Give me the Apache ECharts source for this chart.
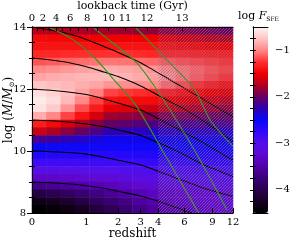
<!DOCTYPE html>
<html><head><meta charset="utf-8">
<script src="https://cdn.jsdelivr.net/npm/echarts@6/dist/echarts.min.js"></script>
<style>html,body{margin:0;padding:0;background:#fff}#c{width:304px;height:240px}</style>
</head><body><div id="c"></div>
<script>
// ---- data ----
const massRows = [13.875,13.625,13.375,13.125,12.875,12.625,12.375,12.125,11.875,11.625,11.375,11.125,
                  10.875,10.625,10.375,10.125,9.875,9.625,9.375,9.125,8.875,8.625,8.375,8.125];
const zCols = [0.1,0.32,0.58,0.9,1.28,1.74,2.29,2.96,3.75,4.7,5.85,7.23,8.88,10.86];
const fsfe = [
 [-1.70,-1.72,-1.75,-1.77,-1.80,-1.80,-1.82,-1.84,-1.85,-1.88,-1.90,-1.93,-1.96,-2.00],
 [-1.45,-1.46,-1.47,-1.48,-1.50,-1.50,-1.50,-1.50,-1.50,-1.55,-1.60,-1.65,-1.70,-1.75],
 [-1.40,-1.40,-1.40,-1.40,-1.40,-1.40,-1.40,-1.40,-1.40,-1.42,-1.44,-1.46,-1.48,-1.50],
 [-1.30,-1.30,-1.28,-1.27,-1.26,-1.25,-1.26,-1.28,-1.30,-1.31,-1.32,-1.33,-1.34,-1.35],
 [-1.15,-1.13,-1.10,-1.08,-1.06,-1.05,-1.06,-1.08,-1.10,-1.13,-1.16,-1.19,-1.22,-1.25],
 [-1.00,-0.97,-0.93,-0.90,-0.87,-0.85,-0.87,-0.90,-0.95,-1.00,-1.05,-1.10,-1.15,-1.20],
 [-0.88,-0.85,-0.83,-0.81,-0.80,-0.80,-0.82,-0.86,-0.90,-0.97,-1.05,-1.12,-1.19,-1.25],
 [-0.75,-0.77,-0.80,-0.84,-0.88,-0.95,-0.97,-0.99,-1.00,-1.08,-1.17,-1.26,-1.34,-1.40],
 [-0.62,-0.68,-0.78,-0.90,-1.02,-1.20,-1.24,-1.27,-1.30,-1.35,-1.40,-1.45,-1.50,-1.55],
 [-0.55,-0.63,-0.80,-1.00,-1.20,-1.40,-1.42,-1.44,-1.45,-1.50,-1.55,-1.60,-1.65,-1.70],
 [-0.60,-0.72,-0.95,-1.17,-1.36,-1.55,-1.58,-1.62,-1.65,-1.69,-1.73,-1.77,-1.81,-1.85],
 [-0.85,-1.00,-1.20,-1.40,-1.60,-1.80,-1.83,-1.87,-1.90,-1.92,-1.94,-1.96,-1.98,-2.00],
 [-1.35,-1.45,-1.60,-1.75,-1.88,-2.00,-2.03,-2.07,-2.10,-2.11,-2.12,-2.13,-2.14,-2.15],
 [-1.65,-1.75,-1.88,-2.00,-2.12,-2.25,-2.27,-2.29,-2.30,-2.30,-2.30,-2.30,-2.30,-2.30],
 [-2.15,-2.20,-2.27,-2.33,-2.40,-2.45,-2.45,-2.45,-2.45,-2.45,-2.45,-2.45,-2.45,-2.45],
 [-2.50,-2.52,-2.53,-2.54,-2.55,-2.55,-2.55,-2.55,-2.55,-2.55,-2.55,-2.55,-2.55,-2.55],
 [-2.65,-2.66,-2.67,-2.68,-2.69,-2.70,-2.68,-2.66,-2.65,-2.65,-2.65,-2.65,-2.65,-2.65],
 [-2.85,-2.85,-2.85,-2.85,-2.85,-2.85,-2.83,-2.81,-2.80,-2.79,-2.78,-2.77,-2.76,-2.75],
 [-3.05,-3.05,-3.04,-3.03,-3.02,-3.00,-2.98,-2.96,-2.95,-2.94,-2.93,-2.92,-2.91,-2.90],
 [-3.30,-3.30,-3.28,-3.26,-3.23,-3.20,-3.15,-3.10,-3.06,-3.04,-3.02,-3.00,-2.99,-2.98],
 [-3.65,-3.62,-3.56,-3.50,-3.44,-3.38,-3.32,-3.26,-3.20,-3.17,-3.14,-3.12,-3.10,-3.08],
 [-4.05,-3.98,-3.90,-3.80,-3.70,-3.60,-3.50,-3.42,-3.35,-3.30,-3.27,-3.24,-3.21,-3.18],
 [-4.35,-4.28,-4.18,-4.05,-3.92,-3.80,-3.68,-3.56,-3.45,-3.38,-3.32,-3.27,-3.23,-3.20],
 [-4.48,-4.45,-4.38,-4.25,-4.10,-3.95,-3.80,-3.66,-3.55,-3.45,-3.38,-3.32,-3.27,-3.25]
];
const zTrack = [0,0.5,1,1.5,2,3,4,5,6,8,10,12];
const track14 = [14.00,13.82,13.60,13.37,13.18,12.85,12.52,12.25,12.02,11.65,11.35,11.10];
const track13 = [13.00,12.88,12.72,12.55,12.40,12.10,11.80,11.55,11.35,10.95,10.60,10.30];
const track12 = [12.00,11.92,11.82,11.68,11.55,11.32,11.05,10.80,10.60,10.25,9.95,9.70];
const track11 = [11.00,10.95,10.87,10.78,10.68,10.50,10.27,10.07,9.88,9.55,9.35,9.17];
const track10 = [10.00,9.96,9.90,9.80,9.70,9.55,9.35,9.17,9.03,8.80,8.65,8.53];
const track9  = [9.00,8.95,8.88,8.80,8.70,8.55,8.38,8.22,8.08,7.85,7.68,7.55];
const green1Z = [0.23,0.67,1.23,1.88,2.72,4.46,7.2,7.6];
const green1M = [14.0,13.61,13.0,12.26,11.52,9.87,8.1,7.9];
const green2Z = [1.18,1.38,2.72,3.51,4.82,7.54,11.05];
const green2M = [14.0,13.81,12.9,12.29,11.32,9.71,8.1];
const green3Z = [2.72,3.34,4.8,7.0,8.7,12.0];
const green3M = [14.0,13.61,12.84,11.97,11.0,10.15];
const zTicks = [0,1,2,3,4,6,9,12];
const lookbackLabels = [0,2,4,6,8,10,11,12,13];
const lookbackZ = [0,0.15,0.36,0.63,1.02,1.66,2.28,3.34,5.8];
const lookbackMinorZ = [0.07,0.25,0.48,0.81,1.3];
const cbarLabels = [-4,-3,-2,-1];
const cbarTicks = [-4.25,-4,-3.75,-3.5,-3.25,-3,-2.75,-2.5,-2.25,-2,-1.75,-1.5,-1.25,-1,-0.75];
const hatchFromZ = 4;
const zMax = 12;
const fMin = -4.5, fMax = -0.5;
const cmap = ['#000000','#180024','#2a004e','#3c0078','#5200a8','#6008d0','#5410ea','#3008fa','#0808f8',
              '#3000b0','#640060','#b00020','#f00000','#ff3030','#ff8888','#ffc4c4','#fff4f4'];

// ---- build ----
const lz = z => Math.log10(1 + z);
const heat = [];
fsfe.forEach((row, r) => row.forEach((v, c) => heat.push([c, r, v])));
const pairs = (zs, ms) => zs.map((z, i) => [lz(z), ms[i]]);
const FONT = 'DejaVu Serif';
const nearest = (vals, v) => { let b = 0; vals.forEach((x, i) => { if (Math.abs(lz(x) - v) < Math.abs(lz(vals[b]) - v)) b = i; }); return b; };

const pc = document.createElement('canvas'); pc.width = 3; pc.height = 3;
const pctx = pc.getContext('2d');
pctx.fillStyle = 'rgba(140,110,150,0.6)';
for (let i = 0; i < 3; i++) pctx.fillRect(i, 2 - i, 1, 1);

const G = {left: 32, top: 27, width: 201, height: 186, outerBoundsMode: 'none', containLabel: false};
const lineSeries = (zs, ms, color) => ({
  type: 'line', xAxisIndex: 1, yAxisIndex: 1, data: pairs(zs, ms), smooth: 0.3,
  showSymbol: false, symbol: 'none', lineStyle: {color, width: 1.1}, z: 3, silent: true, animation: false
});
const trackSeries = [track14, track13, track12, track11, track10, track9].map(t => lineSeries(zTrack, t, '#000'));
const greenSeries = [[green1Z, green1M], [green2Z, green2M], [green3Z, green3M]].map(g => lineSeries(g[0], g[1], '#2f9a1e'));

const axisLine = {show: true, lineStyle: {color: '#000', width: 1}};
const chart = echarts.init(document.getElementById('c'), null, {renderer: 'canvas'});
chart.setOption({
  animation: false,
  textStyle: {fontFamily: FONT},
  grid: [Object.assign({}, G), Object.assign({}, G),
         {left: 253, top: 27, width: 15, height: 186, outerBoundsMode: 'none', containLabel: false}],
  xAxis: [
    {type: 'category', gridIndex: 0, data: zCols, show: false},
    {type: 'value', gridIndex: 1, min: 0, max: lz(zMax), position: 'bottom', z: 10,
     axisLine, splitLine: {show: false},
     axisTick: {inside: true, length: 5, customValues: zTicks.map(lz), lineStyle: {color: '#000'}},
     axisLabel: {customValues: zTicks.map(lz), formatter: v => String(zTicks[nearest(zTicks, v)]),
                 margin: 4, fontSize: 10, color: '#000', fontFamily: FONT},
     name: 'redshift', nameLocation: 'middle', nameGap: 15, nameMoveOverlap: false,
     nameTextStyle: {fontSize: 12, color: '#000', fontFamily: FONT}},
    {type: 'value', gridIndex: 1, min: 0, max: lz(zMax), position: 'top', z: 10,
     axisLine, splitLine: {show: false},
     axisTick: {inside: true, length: 4, customValues: lookbackZ.concat(lookbackMinorZ).map(lz), lineStyle: {color: '#000'}},
     axisLabel: {customValues: lookbackZ.map(lz), formatter: v => String(lookbackLabels[nearest(lookbackZ, v)]),
                 margin: 4, fontSize: 10, color: '#000', fontFamily: FONT},
     name: 'lookback time (Gyr)', nameLocation: 'middle', nameGap: 15, nameMoveOverlap: false,
     nameTextStyle: {fontSize: 11, color: '#000', fontFamily: FONT}},
    {type: 'value', gridIndex: 2, min: 0, max: 1, position: 'bottom', z: 10, axisLine,
     axisTick: {show: false}, axisLabel: {show: false}, splitLine: {show: false}},
    {type: 'value', gridIndex: 2, min: 0, max: 1, position: 'top', z: 10, axisLine,
     axisTick: {show: false}, axisLabel: {show: false}, splitLine: {show: false}}
  ],
  yAxis: [
    {type: 'category', gridIndex: 0, data: massRows, inverse: true, show: false},
    {type: 'value', gridIndex: 1, min: 8, max: 14, interval: 2, position: 'left', z: 10,
     axisLine, splitLine: {show: false},
     axisTick: {inside: true, length: 5, lineStyle: {color: '#000'}},
     minorTick: {show: true, splitNumber: 4, length: 3, lineStyle: {color: '#000'}},
     axisLabel: {margin: 6, fontSize: 10, color: '#000', fontFamily: FONT}},
    {type: 'value', gridIndex: 1, min: 8, max: 14, interval: 2, position: 'right', z: 10,
     axisLine, splitLine: {show: false},
     axisTick: {inside: true, length: 5, lineStyle: {color: '#000'}},
     minorTick: {show: true, splitNumber: 4, length: 3, lineStyle: {color: '#000'}},
     axisLabel: {show: false}},
    {type: 'value', gridIndex: 2, min: fMin, max: fMax, position: 'right', z: 10,
     axisLine, splitLine: {show: false},
     axisTick: {inside: true, length: 3, customValues: cbarTicks, lineStyle: {color: '#000'}},
     axisLabel: {customValues: cbarLabels, formatter: v => String(v).replace('-', '\u2212'),
                 margin: 7, fontSize: 10, color: '#000', fontFamily: FONT}},
    {type: 'value', gridIndex: 2, min: fMin, max: fMax, position: 'left', z: 10,
     axisLine, splitLine: {show: false},
     axisTick: {inside: true, length: 3, customValues: cbarTicks, lineStyle: {color: '#000'}},
     axisLabel: {show: false}}
  ],
  visualMap: {
    type: 'continuous', min: fMin, max: fMax, seriesIndex: 0, calculable: false,
    left: 253, top: 27, itemWidth: 15, itemHeight: 186, padding: 0, text: null,
    inRange: {color: cmap}, hoverLink: false
  },
  graphic: [
    {type: 'text', x: 9, y: 110, rotation: Math.PI / 2, silent: true,
     style: {text: 'log ({i|M}/{i|M}{s|⊙})', font: '12px "DejaVu Serif"', fill: '#000',
       align: 'center', verticalAlign: 'middle',
       rich: {i: {fontStyle: 'italic', fontSize: 12, fontFamily: FONT},
              s: {fontSize: 7, fontFamily: FONT, padding: [6, 0, 0, 0]}}}},
    {type: 'text', left: 45, top: 39, silent: true,
     style: {text: 'MNW', font: '10px "DejaVu Serif"', fill: '#000'}},
    {type: 'text', left: 238, top: 11, silent: true,
     style: {text: 'log {i|F}{s|SFE}', font: '11px "DejaVu Serif"', fill: '#000',
       rich: {i: {fontStyle: 'italic', fontSize: 11, fontFamily: FONT},
              s: {fontSize: 6, fontFamily: FONT, padding: [5, 0, 0, 0]}}}}
  ],
  series: [
    {type: 'heatmap', xAxisIndex: 0, yAxisIndex: 0, data: heat, silent: true, z: 1,
     itemStyle: {borderWidth: 0}},
    ...trackSeries,
    ...greenSeries,
    {type: 'line', xAxisIndex: 1, yAxisIndex: 1, data: [[lz(hatchFromZ), 8]], symbol: 'none',
     lineStyle: {width: 0}, z: 6, silent: true,
     markArea: {silent: true, z: 6, itemStyle: {color: {image: pc, repeat: 'repeat'}, borderWidth: 0},
       data: [[{xAxis: lz(hatchFromZ), yAxis: 8}, {xAxis: lz(zMax), yAxis: 14}]]}}
  ]
});
</script></body></html>
